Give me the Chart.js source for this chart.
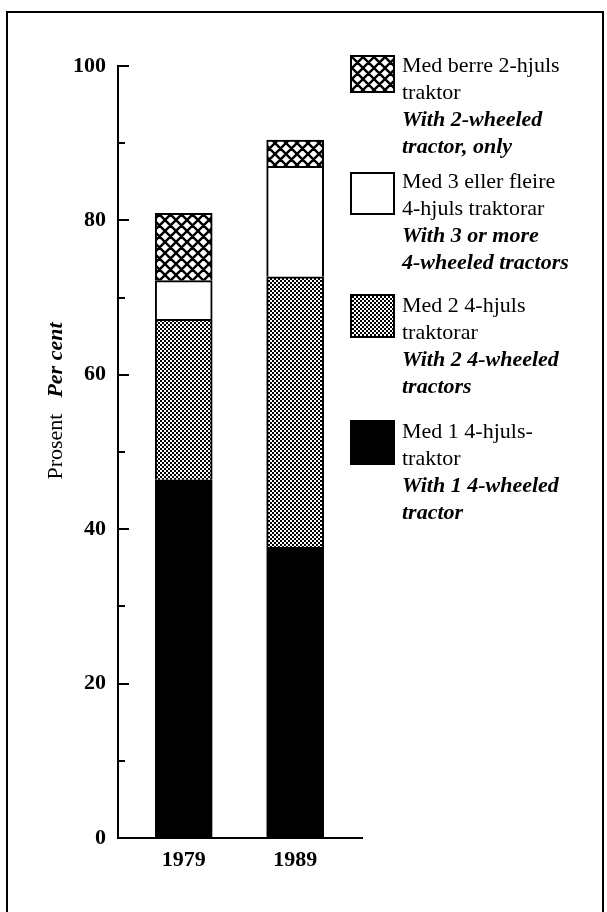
<!DOCTYPE html>
<html>
<head>
<meta charset="utf-8">
<script src="https://cdn.jsdelivr.net/npm/chart.js@4/dist/chart.umd.min.js"></script>
<style>
  html, body { margin: 0; padding: 0; background: #fff; }
  #wrap { position: relative; width: 607px; height: 912px; overflow: hidden; background: #fff; }
  #c { position: absolute; left: 0; top: 0; }
  #frame { position: absolute; left: 6px; top: 11px; width: 598px; height: 1000px;
           border: 2px solid #000; box-sizing: border-box; pointer-events: none; }
  .leg { position: absolute; left: 402px; font-family: "Liberation Serif", "DejaVu Serif", serif;
         font-size: 22px; line-height: 27px; color: #000; white-space: nowrap; }
  .leg .en { font-weight: bold; font-style: italic; }
  .sw { position: absolute; left: 350px; width: 45px; border: 2px solid #000; box-sizing: border-box; }
  #ytitle { position: absolute; left: 55px; top: 401px; transform: translate(-50%, -50%) rotate(-90deg);
            font-family: "Liberation Serif", serif; font-size: 22px; line-height: 24px; white-space: nowrap; color: #000; }
  #ytitle .en { font-weight: bold; font-style: italic; margin-left: 16px; }
</style>
</head>
<body>
<div id="wrap">
  <canvas id="c" width="607" height="912"></canvas>
  <div id="frame"></div>
  <div id="ytitle"><span>Prosent</span><span class="en">Per cent</span></div>
  <div id="legend"></div>
</div>
<script>
// ---- data ----
const categories = ['1979', '1989'];
const oneTractor = [46.4, 37.7];       // Med 1 4-hjuls-traktor
const twoTractors = [20.8, 35.0];      // Med 2 4-hjuls traktorar
const threeOrMore = [5.0, 14.3];       // Med 3 eller fleire 4-hjuls traktorar
const twoWheeledOnly = [8.7, 3.4];     // Med berre 2-hjuls traktor
const yTicks = [0, 20, 40, 60, 80, 100];
const minorStep = 10;

const labelsNN = [
  ['Med berre 2-hjuls', 'traktor'],
  ['Med 3 eller fleire', '4-hjuls traktorar'],
  ['Med 2 4-hjuls', 'traktorar'],
  ['Med 1 4-hjuls-', 'traktor']
];
const labelsEN = [
  ['With 2-wheeled', 'tractor, only'],
  ['With 3 or more', '4-wheeled tractors'],
  ['With 2 4-wheeled', 'tractors'],
  ['With 1 4-wheeled', 'tractor']
];

// ---- patterns ----
function crossTile() {
  const s = 11, c = document.createElement('canvas');
  c.width = s; c.height = s;
  const g = c.getContext('2d');
  g.fillStyle = '#fff'; g.fillRect(0, 0, s, s);
  g.strokeStyle = '#000'; g.lineWidth = 2.4;
  g.beginPath();
  for (const o of [-s, 0, s]) {
    g.moveTo(o - 1, -1); g.lineTo(o + s + 1, s + 1);
    g.moveTo(o + s + 1, -1); g.lineTo(o - 1, s + 1);
  }
  g.stroke();
  return c;
}
function stippleTile() {
  const c = document.createElement('canvas');
  c.width = 4; c.height = 4;
  const g = c.getContext('2d');
  g.fillStyle = '#fff'; g.fillRect(0, 0, 4, 4);
  g.fillStyle = '#000';
  g.fillRect(0, 0, 2, 2); g.fillRect(2, 2, 2, 2);
  return c;
}
const ctx = document.getElementById('c').getContext('2d');
const crossCanvas = crossTile(), stippleCanvas = stippleTile();
const crossPat = ctx.createPattern(crossCanvas, 'repeat');
const stipplePat = ctx.createPattern(stippleCanvas, 'repeat');

const toXY = arr => arr.map((v, i) => ({ x: Number(categories[i]), y: v }));

const serif = '"Liberation Serif", "DejaVu Serif", serif';

const innerTicks = {
  id: 'innerTicks',
  afterDraw(chart) {
    const y = chart.scales.y, g = chart.ctx, left = chart.chartArea.left;
    g.save();
    g.strokeStyle = '#000'; g.lineWidth = 2;
    for (let v = minorStep; v <= 100; v += minorStep) {
      const py = Math.round(y.getPixelForValue(v));
      const len = yTicks.includes(v) ? 11 : 7;
      g.beginPath(); g.moveTo(left, py); g.lineTo(left + len, py); g.stroke();
    }
    g.restore();
  }
};

new Chart(ctx, {
  type: 'bar',
  data: {
    datasets: [
      { label: 'Med 1 4-hjuls-traktor', data: toXY(oneTractor), backgroundColor: '#000' },
      { label: 'Med 2 4-hjuls traktorar', data: toXY(twoTractors), backgroundColor: stipplePat },
      { label: 'Med 3 eller fleire 4-hjuls traktorar', data: toXY(threeOrMore), backgroundColor: '#fff' },
      { label: 'Med berre 2-hjuls traktor', data: toXY(twoWheeledOnly), backgroundColor: crossPat }
    ]
  },
  options: {
    responsive: false,
    devicePixelRatio: 1,
    animation: false,
    events: [],
    layout: { padding: { left: 0, right: 245, top: 66, bottom: 0 } },
    datasets: { bar: { barThickness: 57, borderColor: '#000', borderWidth: 2, borderSkipped: 'start' } },
    plugins: { legend: { display: false }, tooltip: { enabled: false }, title: { display: false } },
    scales: {
      x: {
        type: 'linear', stacked: true, offset: false, min: 1973.1, max: 1995,
        afterBuildTicks: s => { s.ticks = categories.map(c => ({ value: Number(c) })); },
        afterFit: s => { s.height = 74; },
        grid: { display: false, drawTicks: false, offset: false },
        border: { display: true, color: '#000', width: 2 },
        ticks: { padding: 9, color: '#000', font: { family: serif, size: 22, weight: 'bold' },
                 callback: v => String(v), maxRotation: 0, autoSkip: false }
      },
      y: {
        stacked: true, min: 0, max: 100,
        afterBuildTicks: s => { s.ticks = yTicks.map(v => ({ value: v })); },
        afterFit: s => { s.width = 118; },
        grid: { display: false, drawTicks: false },
        border: { display: true, color: '#000', width: 2 },
        ticks: { padding: 12, color: '#000', font: { family: serif, size: 22, weight: 'bold' } }
      }
    }
  },
  plugins: [innerTicks]
});

// ---- legend (HTML) ----
const legendFills = [
  'url(' + crossCanvas.toDataURL() + ')',
  '#fff',
  'url(' + stippleCanvas.toDataURL() + ')',
  '#000'
];
const legendTops = [51, 167, 291, 417];
const swatchBoxes = [[55, 38], [172, 43], [294, 44], [420, 45]];
const legendEl = document.getElementById('legend');
labelsNN.forEach((nn, i) => {
  const sw = document.createElement('div');
  sw.className = 'sw';
  sw.style.top = swatchBoxes[i][0] + 'px';
  sw.style.height = swatchBoxes[i][1] + 'px';
  sw.style.background = legendFills[i];
  legendEl.appendChild(sw);
  const d = document.createElement('div');
  d.className = 'leg';
  d.style.top = legendTops[i] + 'px';
  nn.forEach(t => { const l = document.createElement('div'); l.textContent = t; d.appendChild(l); });
  labelsEN[i].forEach(t => { const l = document.createElement('div'); l.className = 'en'; l.textContent = t; d.appendChild(l); });
  legendEl.appendChild(d);
});
</script>
</body>
</html>
